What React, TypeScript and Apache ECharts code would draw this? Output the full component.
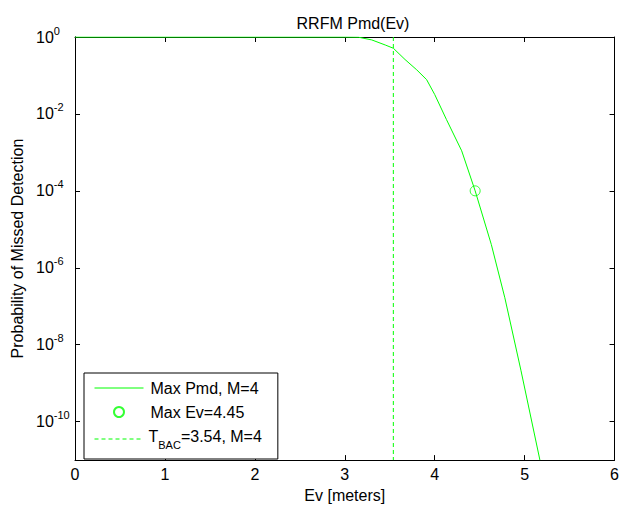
import React, { useEffect, useRef } from "react";
import * as echarts from "echarts";

const titleText = "RRFM Pmd(Ev)";
const xTitle = "Ev [meters]";
const yTitle = "Probability of Missed Detection";

const pmdNames = ["Max Pmd, M=4", "Max Ev=4.45", "T_BAC=3.54, M=4"];

const evValues = [0, 3.0, 3.15, 3.3, 3.45, 3.54, 3.67, 3.8, 3.91, 4.0, 4.13, 4.3, 4.45, 4.63, 4.78, 4.96, 5.17];
const pmdValues = [1, 1, 0.99, 0.84, 0.62, 0.51, 0.26, 0.14, 0.078, 0.032, 7.2e-3, 1.1e-3, 1e-4, 4e-6, 1.66e-7, 2.1e-9, 1e-11];

const maxEv = [4.45];
const maxEvPmd = [1e-4];

const tBacX = [3.54, 3.54];
const tBacY = [1, 1e-11];

// decade positions of the log axis (exponents), bottom to top
const decadeExponents = ["-11", "-10", "-9", "-8", "-7", "-6", "-5", "-4", "-3", "-2", "-1", "0"];

const xMin = 0;
const xMax = 6;
const yMin = 1e-11;
const yMax = 1;

const FONT = "'Liberation Sans', Arial, sans-serif";
const GREEN = "#00ff00";
const FS = 16;

export default function App() {
  const ref = useRef<HTMLDivElement>(null);
  useEffect(() => {
    document.body.style.margin = "0";
    if (!ref.current) return;
    const chart = echarts.init(ref.current, null, { renderer: "svg" });
    const isEven = (_i: number, v: string) => Number(v) % 2 === 0;
    const axisLineBlack = { show: true, lineStyle: { color: "#000", width: 1 } };
    const tickInside = { show: true, inside: true, length: 5, lineStyle: { color: "#000" } };
    chart.setOption({
      animation: false,
      backgroundColor: "#fff",
      textStyle: { fontFamily: FONT },
      title: {
        text: titleText,
        left: 348,
        textAlign: "center",
        top: 10,
        textStyle: { fontSize: FS, fontWeight: "normal", color: "#000", fontFamily: FONT },
      },
      grid: { left: 75, right: 5, top: 37, bottom: 44, containLabel: false },
      legend: {
        orient: "vertical",
        left: 84,
        top: 373,
        backgroundColor: "#fff",
        borderColor: "#000",
        borderWidth: 1,
        borderRadius: 0,
        padding: [7, 16, 9, 10],
        itemWidth: 49,
        itemHeight: 10,
        itemGap: 8,
        lineStyle: { width: 1 },
        data: [
          { name: pmdNames[0], itemStyle: { opacity: 0 } },
          { name: pmdNames[1] },
          { name: pmdNames[2], itemStyle: { opacity: 0 } },
        ],
        formatter: (name: string) =>
          name === pmdNames[2] ? "{t|T}{sub|BAC}{t|=3.54, M=4}" : "{m|" + name + "}",
        textStyle: {
          fontFamily: FONT,
          fontSize: FS,
          color: "#000",
          rich: {
            m: { fontSize: FS, lineHeight: 16, fontFamily: FONT, color: "#000", padding: [0, 0, 0, 2] },
            t: { fontSize: FS, lineHeight: 16, fontFamily: FONT, color: "#000", padding: [0, 0, 6, 0] },
            sub: { fontSize: 11, lineHeight: 11, fontFamily: FONT, color: "#000", padding: [11, 0, 0, 0] },
          },
        },
      },
      xAxis: [
        {
          type: "value",
          min: xMin,
          max: xMax,
          interval: 1,
          position: "bottom",
          axisLine: axisLineBlack,
          axisTick: tickInside,
          splitLine: { show: false },
          axisLabel: { color: "#000", fontSize: FS, fontFamily: FONT, margin: 6 },
          name: xTitle,
          nameLocation: "middle",
          nameGap: 25,
          nameTextStyle: { color: "#000", fontSize: FS, fontFamily: FONT },
        },
        {
          type: "value",
          min: xMin,
          max: xMax,
          interval: 1,
          position: "top",
          axisLine: axisLineBlack,
          axisTick: tickInside,
          splitLine: { show: false },
          axisLabel: { show: false },
        },
      ],
      yAxis: [
        {
          type: "log",
          logBase: 10,
          min: yMin,
          max: yMax,
          position: "left",
          axisLine: axisLineBlack,
          axisTick: { show: false },
          splitLine: { show: false },
          axisLabel: { show: false },
          name: yTitle,
          nameLocation: "middle",
          nameGap: 50,
          nameRotate: 90,
          nameTextStyle: { color: "#000", fontSize: FS, fontFamily: FONT },
        },
        {
          type: "category",
          data: decadeExponents,
          boundaryGap: false,
          position: "left",
          axisLine: axisLineBlack,
          axisTick: { ...tickInside, interval: isEven },
          splitLine: { show: false },
          axisLabel: {
            interval: isEven,
            color: "#000",
            fontFamily: FONT,
            margin: 39,
            align: "left",
            formatter: (v: string) => "{b|10}{s|" + v + "}",
            rich: {
              b: { fontSize: FS, lineHeight: 16, fontFamily: FONT, color: "#000", padding: [4, 0, 4, 0] },
              s: { fontSize: 11, lineHeight: 11, fontFamily: FONT, color: "#000", padding: [0, 0, 13, 0] },
            },
          },
        },
        {
          type: "category",
          data: decadeExponents,
          boundaryGap: false,
          position: "right",
          axisLine: axisLineBlack,
          axisTick: { ...tickInside, interval: isEven },
          splitLine: { show: false },
          axisLabel: { show: false },
        },
      ],
      series: [
        {
          name: pmdNames[0],
          type: "line",
          yAxisIndex: 0,
          data: evValues.map((x, i) => [x, pmdValues[i]]),
          symbol: "none",
          lineStyle: { color: GREEN, width: 1 },
          itemStyle: { color: GREEN },
          z: 3,
        },
        {
          name: pmdNames[1],
          type: "scatter",
          yAxisIndex: 0,
          data: maxEv.map((x, i) => [x, maxEvPmd[i]]),
          symbol: "circle",
          symbolSize: 10,
          itemStyle: { color: "rgba(0,0,0,0)", borderColor: GREEN, borderWidth: 1 },
          z: 4,
        },
        {
          name: pmdNames[2],
          type: "line",
          yAxisIndex: 0,
          data: tBacX.map((x, i) => [x, tBacY[i]]),
          symbol: "none",
          lineStyle: { color: GREEN, width: 1, type: [4, 3] },
          itemStyle: { color: GREEN },
          z: 2,
        },
      ],
    });
    return () => chart.dispose();
  }, []);
  return <div ref={ref} style={{ width: 622, height: 508 }} />;
}
